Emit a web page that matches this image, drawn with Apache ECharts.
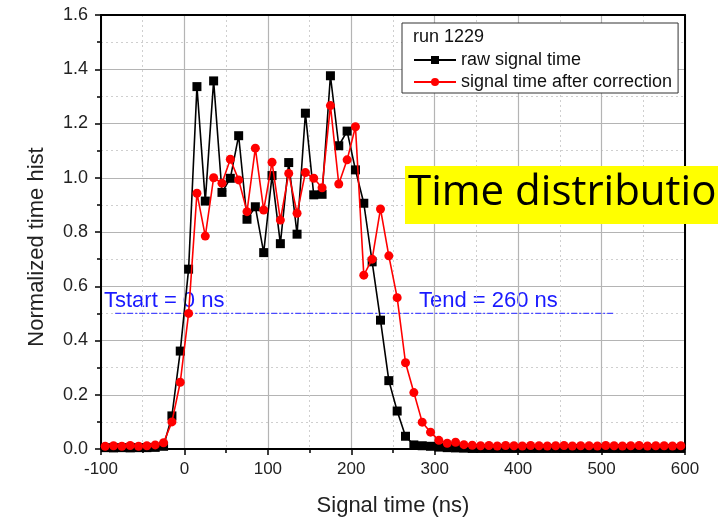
<!DOCTYPE html>
<html>
<head>
<meta charset="utf-8">
<script src="https://cdn.jsdelivr.net/npm/echarts@6/dist/echarts.min.js"></script>
<style>
  html, body { margin: 0; padding: 0; background: #fff; }
  #chart { width: 718px; height: 523px; }
</style>
</head>
<body>
<div id="chart"></div>
<script>
// bin centres (ns)
const times = [
  -95, -85, -75, -65, -55, -45, -35, -25, -15, -5,
  5, 15, 25, 35, 45, 55, 65, 75, 85, 95,
  105, 115, 125, 135, 145, 155, 165, 175, 185, 195,
  205, 215, 225, 235, 245, 255, 265, 275, 285, 295,
  305, 315, 325, 335, 345, 355, 365, 375, 385, 395,
  405, 415, 425, 435, 445, 455, 465, 475, 485, 495,
  505, 515, 525, 535, 545, 555, 565, 575, 585, 595
]
// raw signal time
const rawValues = [
  0.005, 0.004, 0.005, 0.004, 0.005, 0.005, 0.006, 0.01, 0.122, 0.361,
  0.663, 1.336, 0.914, 1.357, 0.946, 0.998, 1.155, 0.847, 0.893, 0.724,
  1.008, 0.757, 1.056, 0.792, 1.238, 0.937, 0.939, 1.376, 1.118, 1.172,
  1.029, 0.906, 0.69, 0.475, 0.252, 0.14, 0.047, 0.015, 0.012, 0.01,
  0.007, 0.005, 0.004, 0.003, 0.002, 0.002, 0.002, 0.002, 0.002, 0.002,
  0.002, 0.002, 0.002, 0.002, 0.002, 0.002, 0.002, 0.002, 0.002, 0.002,
  0.002, 0.002, 0.002, 0.002, 0.002, 0.002, 0.002, 0.002, 0.002, 0.002
]
// signal time after correction
const corrValues = [
  0.01, 0.012, 0.01, 0.013, 0.01, 0.012, 0.015, 0.023, 0.10, 0.246,
  0.50, 0.943, 0.785, 1.0, 0.98, 1.068, 0.992, 0.875, 1.109, 0.881,
  1.057, 0.844, 1.016, 0.869, 1.019, 0.998, 0.963, 1.266, 0.977, 1.066,
  1.188, 0.641, 0.70, 0.885, 0.712, 0.558, 0.318, 0.208, 0.099, 0.062,
  0.032, 0.021, 0.025, 0.016, 0.014, 0.012, 0.013, 0.011, 0.013, 0.012,
  0.011, 0.013, 0.012, 0.011, 0.012, 0.013, 0.011, 0.012, 0.012, 0.011,
  0.013, 0.012, 0.011, 0.012, 0.013, 0.011, 0.012, 0.012, 0.011, 0.012
]
// Tstart / Tend guide line at 0.5
const guideX = [-83, 516]
const guideY = [0.5, 0.5]

const xTicks = { min: -100, max: 600, interval: 100 }
const yTicks = { min: 0, max: 1.6, interval: 0.2 }

const font = 'Liberation Sans, Arial, sans-serif'
const chart = echarts.init(document.getElementById('chart'), null, { renderer: 'canvas' })

const pairs = (xs, ys) => xs.map((x, i) => [x, ys[i]])

const axisCommon = () => ({
  axisLine: { show: true, onZero: false, lineStyle: { color: '#000', width: 2 } },
  axisTick: { show: true, inside: false, length: 6, lineStyle: { color: '#000', width: 1.5 } },
  minorTick: { show: true, splitNumber: 2, length: 4, lineStyle: { color: '#000', width: 1.5 } },
  splitLine: { show: true, lineStyle: { color: '#b4b4b4', width: 1.2 } },
  minorSplitLine: { show: true, lineStyle: { color: '#cfcfcf', width: 1, type: [2, 3] } }
})

const frameAxis = () => ({
  axisLine: { show: true, onZero: false, lineStyle: { color: '#000', width: 2 } },
  axisTick: { show: false },
  axisLabel: { show: false },
  splitLine: { show: false }
})

const option = {
  animation: false,
  backgroundColor: '#fff',
  grid: { left: 101, right: 33, top: 15, bottom: 74, show: false },
  legend: {
    left: 402,
    top: 23,
    orient: 'vertical',
    padding: [28, 6, 2, 11],
    itemGap: 4,
    itemWidth: 42,
    itemHeight: 10,
    backgroundColor: '#fff',
    borderColor: '#333',
    borderWidth: 1,
    borderRadius: 0,
    textStyle: { fontFamily: font, fontSize: 18, color: '#111' },
    data: ['raw signal time', 'signal time after correction']
  },
  xAxis: [
    Object.assign({
      type: 'value',
      min: xTicks.min,
      max: xTicks.max,
      interval: xTicks.interval,
      name: 'Signal time (ns)',
      nameLocation: 'middle',
      nameGap: 46,
      nameTextStyle: { fontFamily: font, fontSize: 22, color: '#222' },
      axisLabel: { fontFamily: font, fontSize: 17, color: '#222', margin: 12 }
    }, axisCommon()),
    Object.assign({
      type: 'value',
      position: 'top',
      min: xTicks.min,
      max: xTicks.max,
      interval: xTicks.interval
    }, frameAxis())
  ],
  yAxis: [
    Object.assign({
      type: 'value',
      min: yTicks.min,
      max: yTicks.max,
      interval: yTicks.interval,
      axisLabel: {
        fontFamily: font, fontSize: 18, color: '#222', margin: 13,
        formatter: v => v.toFixed(1)
      }
    }, axisCommon()),
    Object.assign({
      type: 'value',
      position: 'right',
      min: yTicks.min,
      max: yTicks.max,
      interval: yTicks.interval
    }, frameAxis())
  ],
  series: [
    {
      name: 'raw signal time',
      type: 'line',
      data: pairs(times, rawValues),
      symbol: 'rect',
      symbolSize: 9,
      itemStyle: { color: '#000' },
      lineStyle: { color: '#000', width: 1.6 },
      z: 3
    },
    {
      name: 'signal time after correction',
      type: 'line',
      data: pairs(times, corrValues),
      symbol: 'circle',
      symbolSize: 9,
      itemStyle: { color: '#ff0000' },
      lineStyle: { color: '#ff0000', width: 1.6 },
      z: 4
    },
    {
      name: 'guide',
      type: 'line',
      data: pairs(guideX, guideY),
      symbol: 'none',
      lineStyle: { color: '#4a4aff', width: 1.2, type: [6, 2, 2, 2] },
      silent: true,
      z: 2
    }
  ],
  graphic: [
    {
      // y axis title, sits a little below the plot's middle as in the original
      type: 'text', x: 37, y: 247, rotation: Math.PI / 2,
      style: {
        text: 'Normalized time hist', fontFamily: font, fontSize: 22, fill: '#222',
        align: 'center', verticalAlign: 'middle'
      }
    },
    {
      type: 'text', left: 413, top: 28, z: 100,
      style: { text: 'run 1229', fontFamily: font, fontSize: 18, fill: '#111' }
    },
    {
      type: 'text', left: 104, top: 290,
      style: { text: 'Tstart = 0 ns', fontFamily: font, fontSize: 22, fill: '#1a1aff' }
    },
    {
      type: 'text', left: 419, top: 290,
      style: { text: 'Tend = 260 ns', fontFamily: font, fontSize: 22, fill: '#1a1aff' }
    },
    {
      type: 'rect', left: 405, top: 166, z: 100,
      shape: { width: 320, height: 58 },
      style: { fill: '#ffff00' }
    },
    {
      type: 'text', left: 408, top: 172, z: 101,
      style: { text: 'Time distribution', fontFamily: 'Open Sans, sans-serif', fontSize: 42, fill: '#000' }
    }
  ]
}

chart.setOption(option)
window.onresize = function() {
  chart.resize()
}
</script>
</body>
</html>
